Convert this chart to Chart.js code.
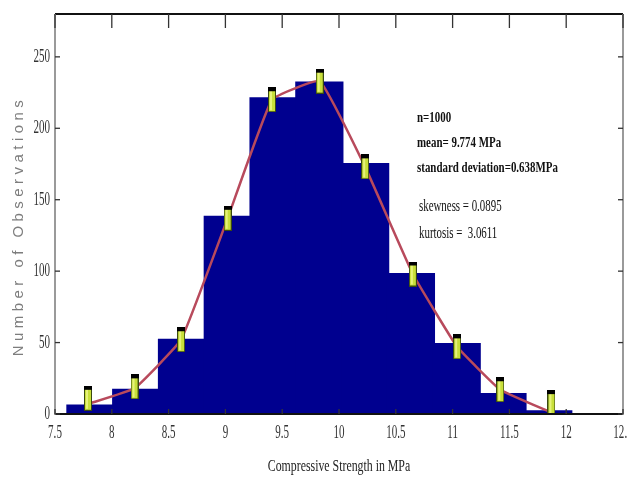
<!DOCTYPE html>
<html>
<head>
<meta charset="utf-8">
<script src="https://cdn.jsdelivr.net/npm/chart.js@4.4.1/dist/chart.umd.min.js"></script>
<style>
  html, body { margin:0; padding:0; background:#fff; overflow:hidden; }
  #chart { display:block; }
</style>
</head>
<body>
<canvas id="chart" width="645" height="484"></canvas>
<script>
// histogram of compressive strength, 1000 specimens
const binCenters  = [7.812, 8.215, 8.618, 9.021, 9.424, 9.827, 10.23, 10.633, 11.036, 11.439, 11.842];
const binCounts   = [6, 17, 52, 138, 221, 232, 175, 98, 49, 14, 2];
const fitX        = [7.79, 8.20, 8.61, 9.02, 9.41, 9.83, 10.23, 10.65, 11.04, 11.42, 11.87];
const fitY        = [7, 18, 52, 137, 220, 233, 173, 98, 47, 17, 1];
const markerY     = [11, 19, 52, 137, 220, 233, 173, 98, 47, 17, 8];
const xTicks      = [7.5, 8, 8.5, 9, 9.5, 10, 10.5, 11, 11.5, 12, 12.5];
const xTickLabels = ['7.5', '8', '8.5', '9', '9.5', '10', '10.5', '11', '11.5', '12', '12.5'];
const yTicks      = [0, 50, 100, 150, 200, 250];
const statsLines  = ['n=1000', 'mean= 9.774 MPa', 'standard deviation=0.638MPa'];
const momentLines = ['skewness = 0.0895', 'kurtosis =  3.0611'];

const SERIF = "'Liberation Serif', 'Times New Roman', serif";

function makeMarker() {
  const c = document.createElement('canvas');
  c.width = 8; c.height = 25;
  const g = c.getContext('2d');
  g.fillStyle = '#3a4a10'; g.fillRect(0, 0, 8, 25);
  g.fillStyle = '#c8df3a'; g.fillRect(1, 3, 6, 21);
  g.fillStyle = '#e6f27a'; g.fillRect(2, 4, 2, 19);
  g.fillStyle = '#000'; g.fillRect(0, 0, 8, 4);
  return c;
}

function txt(ctx, s, x, y, size, sx, opt = {}) {
  ctx.save();
  ctx.translate(x, y);
  ctx.scale(sx, 1);
  ctx.font = `${opt.bold ? 'bold ' : ''}${size}px ${SERIF}`;
  ctx.fillStyle = opt.color || '#111';
  ctx.textAlign = opt.align || 'left';
  ctx.textBaseline = 'middle';
  ctx.fillText(s, 0, 0);
  ctx.restore();
}

const frame = {
  id: 'frame',
  afterDatasetsDraw(chart) {
    const { ctx, chartArea: a, scales: { x, y } } = chart;
    ctx.save();
    // box
    ctx.lineWidth = 2;
    ctx.strokeStyle = '#111';
    ctx.beginPath(); ctx.moveTo(a.left, a.top); ctx.lineTo(a.right, a.top); ctx.stroke();
    ctx.beginPath(); ctx.moveTo(a.left, a.bottom); ctx.lineTo(a.right, a.bottom); ctx.stroke();
    ctx.strokeStyle = '#9a9a9a';
    ctx.beginPath(); ctx.moveTo(a.left, a.top); ctx.lineTo(a.left, a.bottom + 1); ctx.stroke();
    ctx.beginPath(); ctx.moveTo(a.right, a.top); ctx.lineTo(a.right, a.bottom + 1); ctx.stroke();
    // inward ticks
    ctx.lineWidth = 1.3;
    ctx.strokeStyle = '#333';
    xTicks.forEach(v => {
      const px = x.getPixelForValue(v);
      ctx.beginPath(); ctx.moveTo(px, a.top); ctx.lineTo(px, a.top + 14); ctx.stroke();
      ctx.beginPath(); ctx.moveTo(px, a.bottom); ctx.lineTo(px, a.bottom - 5); ctx.stroke();
    });
    yTicks.forEach(v => {
      const py = y.getPixelForValue(v);
      ctx.beginPath(); ctx.moveTo(a.left, py); ctx.lineTo(a.left + 5, py); ctx.stroke();
      ctx.beginPath(); ctx.moveTo(a.right, py); ctx.lineTo(a.right - 5, py); ctx.stroke();
    });
    ctx.restore();

    // tick labels, narrow and tall like the scanned figure
    xTicks.forEach((v, i) => txt(ctx, xTickLabels[i], x.getPixelForValue(v), a.bottom + 19, 19, 0.58, { align: 'center', color: '#333' }));
    yTicks.forEach(v => txt(ctx, String(v), a.left - 5, y.getPixelForValue(v), 19, 0.58, { align: 'right', color: '#333' }));

    // axis titles
    txt(ctx, 'Compressive Strength in MPa', (a.left + a.right) / 2, 467, 16, 0.74, { align: 'center', color: '#222' });
    ctx.save();
    ctx.translate(19, 226);
    ctx.rotate(-Math.PI / 2);
    ctx.font = `15px 'Liberation Sans', Arial, sans-serif`;
    const yTitle = 'Number of Observations';
    const w = ctx.measureText(yTitle).width;
    ctx.letterSpacing = ((256 - w) / (yTitle.length - 1)).toFixed(2) + 'px';
    ctx.fillStyle = '#7d7d7d';
    ctx.textAlign = 'center';
    ctx.textBaseline = 'middle';
    ctx.fillText(yTitle, 0, 0);
    ctx.restore();

    // stats note
    statsLines.forEach((s, i) => txt(ctx, s, 417, 118 + i * 25, 14, 0.78, { bold: true }));
    momentLines.forEach((s, i) => txt(ctx, s, 419, 207 + i * 27, 16, 0.68));
  }
};

new Chart(document.getElementById('chart'), {
  data: {
    datasets: [
      {
        type: 'scatter', data: fitX.map((v, i) => ({ x: v, y: markerY[i] })),
        pointStyle: makeMarker(), pointRadius: 6, order: 0
      },
      {
        type: 'line', data: fitX.map((v, i) => ({ x: v, y: fitY[i] })),
        borderColor: '#b84a5c', borderWidth: 2.5, tension: 0.1, pointRadius: 0, fill: false, order: 1
      },
      {
        type: 'bar', data: binCenters.map((v, i) => ({ x: v, y: binCounts[i] })),
        backgroundColor: '#00008f', borderWidth: 0, inflateAmount: 1,
        barPercentage: 1.01, categoryPercentage: 1, order: 2
      }
    ]
  },
  options: {
    responsive: false,
    animation: false,
    layout: { padding: { top: 14, right: 22, left: 0, bottom: 0 } },
    plugins: { legend: { display: false }, tooltip: { enabled: false } },
    scales: {
      x: {
        type: 'linear', min: 7.5, max: 12.5, offset: false,
        ticks: { display: false, stepSize: 0.5 },
        grid: { display: false }, border: { display: false },
        afterFit: s => { s.height = 70; }
      },
      y: {
        min: 0, max: 280,
        ticks: { display: false, stepSize: 50 },
        grid: { display: false }, border: { display: false },
        afterFit: s => { s.width = 55; }
      }
    }
  },
  plugins: [frame]
});
</script>
</body>
</html>
